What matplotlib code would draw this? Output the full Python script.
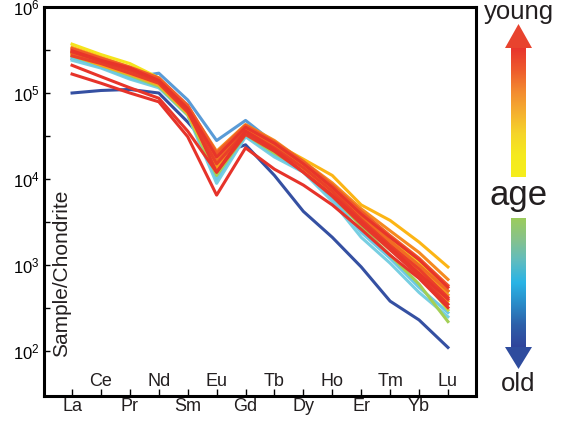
import numpy as np
import matplotlib
matplotlib.use("Agg")
import matplotlib.pyplot as plt
from matplotlib.colors import LinearSegmentedColormap
from matplotlib.ticker import FixedLocator, NullFormatter

plt.rcParams['font.family'] = ['Liberation Sans', 'DejaVu Sans']
plt.rcParams['mathtext.fontset'] = 'custom'
plt.rcParams['mathtext.rm'] = 'Liberation Sans'
plt.rcParams['mathtext.default'] = 'regular'

# 希土類元素（Pmなし）
elements = ["La", "Ce", "Pr", "Nd", "Sm", "Eu", "Gd", "Tb", "Dy", "Ho", "Er", "Tm", "Yb", "Lu"]

# コンドライト規格化値（古い順 → 新しい順）
old_blue    = [1.0e5, 1.07e5, 1.1e5, 1.0e5, 4.6e4, 1.9e4, 2.5e4, 1.1e4, 4.2e3, 2.1e3, 9.5e2, 3.8e2, 2.3e2, 1.1e2]
mid_blue    = [2.5e5, 2.0e5, 1.5e5, 1.7e5, 8.3e4, 2.8e4, 4.8e4, 2.6e4, 1.4e4, 7.0e3, 3.5e3, 1.8e3, 1.0e3, 5.0e2]
cyan_a      = [2.4e5, 1.95e5, 1.45e5, 1.15e5, 5.5e4, 8.9e3, 3.1e4, 1.8e4, 1.2e4, 5.5e3, 2.1e3, 1.05e3, 4.8e2, 2.5e2]
cyan_b      = [2.6e5, 2.0e5, 1.5e5, 1.2e5, 5.7e4, 1.0e4, 3.2e4, 1.9e4, 1.25e4, 6.0e3, 2.4e3, 1.2e3, 5.5e2, 2.8e2]
green_a     = [2.7e5, 2.1e5, 1.6e5, 1.2e5, 5.6e4, 1.1e4, 3.3e4, 2.0e4, 1.3e4, 6.5e3, 2.8e3, 1.3e3, 6.0e2, 2.2e2]
green_b     = [2.9e5, 2.2e5, 1.7e5, 1.25e5, 5.8e4, 1.25e4, 3.4e4, 2.2e4, 1.35e4, 7.0e3, 3.3e3, 1.6e3, 7.8e2, 3.0e2]
yellow      = [3.7e5, 2.8e5, 2.2e5, 1.5e5, 6.8e4, 1.6e4, 4.0e4, 2.5e4, 1.5e4, 8.5e3, 4.0e3, 2.0e3, 1.1e3, 5.0e2]
gold        = [3.4e5, 2.6e5, 2.0e5, 1.4e5, 6.5e4, 1.9e4, 3.9e4, 2.6e4, 1.7e4, 1.1e4, 5.0e3, 3.3e3, 1.85e3, 9.5e2]
orange_a    = [3.2e5, 2.5e5, 1.9e5, 1.45e5, 7.0e4, 2.1e4, 4.3e4, 2.8e4, 1.6e4, 9.0e3, 4.5e3, 2.5e3, 1.4e3, 6.8e2]
orange_b    = [3.0e5, 2.3e5, 1.8e5, 1.3e5, 6.0e4, 1.4e4, 3.7e4, 2.4e4, 1.4e4, 7.5e3, 3.6e3, 1.8e3, 9.5e2, 4.5e2]
orange_c    = [2.8e5, 2.1e5, 1.65e5, 1.25e5, 5.8e4, 1.3e4, 3.5e4, 2.2e4, 1.3e4, 7.0e3, 3.2e3, 1.6e3, 8.5e2, 3.8e2]
redorange_a = [3.3e5, 2.55e5, 2.0e5, 1.5e5, 7.2e4, 2.0e4, 4.2e4, 2.7e4, 1.6e4, 8.5e3, 4.2e3, 2.2e3, 1.2e3, 5.8e2]
redorange_b = [2.9e5, 2.3e5, 1.8e5, 1.35e5, 6.2e4, 1.6e4, 3.8e4, 2.5e4, 1.5e4, 8.0e3, 3.8e3, 1.9e3, 1.0e3, 5.0e2]
red_a       = [3.1e5, 2.4e5, 1.95e5, 1.4e5, 6.6e4, 1.8e4, 4.0e4, 2.6e4, 1.5e4, 8.0e3, 3.9e3, 2.1e3, 1.15e3, 5.5e2]
red_b       = [2.7e5, 2.2e5, 1.7e5, 1.3e5, 6.0e4, 1.5e4, 3.6e4, 2.3e4, 1.35e4, 7.2e3, 3.4e3, 1.7e3, 9.0e2, 4.2e2]
red_c       = [3.0e5, 2.35e5, 1.85e5, 1.38e5, 6.4e4, 1.2e4, 3.3e4, 2.1e4, 1.2e4, 6.3e3, 3.0e3, 1.5e3, 7.5e2, 3.5e2]
red_low1    = [2.1e5, 1.55e5, 1.15e5, 8.7e4, 3.6e4, 1.2e4, 3.6e4, 2.2e4, 1.2e4, 6.5e3, 3.2e3, 1.6e3, 8.0e2, 4.0e2]
red_low2    = [1.66e5, 1.3e5, 1.0e5, 7.9e4, 3.1e4, 6.5e3, 2.3e4, 1.3e4, 8.5e3, 5.0e3, 2.6e3, 1.3e3, 7.0e2, 3.2e2]

# 描画順（下から）と色
series = [
    (old_blue, "#3550a2"),
    (mid_blue, "#5a9bd6"),
    (cyan_a, "#78cfe2"),
    (cyan_b, "#6cc9e4"),
    (green_a, "#a3cf55"),
    (green_b, "#c4d944"),
    (yellow, "#f5e41c"),
    (gold, "#fcb515"),
    (orange_c, "#f9a51f"),
    (orange_b, "#f79a1e"),
    (orange_a, "#f58a1f"),
    (redorange_b, "#f26b23"),
    (redorange_a, "#f05a28"),
    (red_b, "#ea3f29"),
    (red_c, "#e63a2b"),
    (red_a, "#e8352a"),
    (red_low1, "#e8352a"),
    (red_low2, "#e6332a"),
]

W, H = 567, 425
fig = plt.figure(figsize=(W / 100, H / 100), dpi=100)

# 矢印（年代スケール）用のオーバーレイ
ov = fig.add_axes([0, 0, 1, 1])
ov.axis("off")

young_cmap = LinearSegmentedColormap.from_list(
    "young", ["#e8352d", "#ee5a2c", "#f38a30", "#f5b02f", "#f5d52a", "#f5ea1e", "#f6ee1c"])
old_cmap = LinearSegmentedColormap.from_list(
    "old", ["#9ccc5c", "#86c28c", "#5fbcc0", "#29b4e6", "#2a8bc8", "#2d5fa9", "#30449b"])
grad = np.linspace(0, 1, 256).reshape(-1, 1)
ov.imshow(grad, cmap=young_cmap, extent=[511, 526, 177, 48], aspect="auto", interpolation="bilinear")
ov.imshow(grad, cmap=old_cmap, extent=[511, 526, 347, 218], aspect="auto", interpolation="bilinear")
ov.fill([505, 532, 518.5], [48, 48, 24], color="#e8432e", lw=0)
ov.fill([505, 532, 518.5], [347, 347, 369], color="#2f4c9e", lw=0)
ov.set_xlim(0, W)
ov.set_ylim(H, 0)
ov.text(518.5, 12, "young", ha="center", va="center", fontsize=18.5, color="#231f20")
ov.text(518.5, 195, "age", ha="center", va="center", fontsize=25, color="#231f20")
ov.text(518.5, 384, "old", ha="center", va="center", fontsize=18.5, color="#231f20")

# メインのスパイダー図
ax = fig.add_axes([44 / W, 1 - 396 / H, (476 - 44) / W, (396 - 7) / H])
x = np.arange(len(elements))
for vals, col in series:
    ax.plot(x, vals, color=col, lw=2.2, solid_joinstyle="round")

ax.set_yscale("log")
ax.set_ylim(30, 1e6)
ax.set_xlim(-0.97, 13.97)

for s in ax.spines.values():
    s.set_linewidth(2.2)

ax.yaxis.set_major_locator(FixedLocator([1e2, 1e3, 1e4, 1e5, 1e6]))
ax.yaxis.set_minor_locator(FixedLocator([10 ** (k + 0.5) for k in range(2, 6)]))
ax.yaxis.set_minor_formatter(NullFormatter())
ax.tick_params(axis="y", which="both", direction="in", length=4, width=1, labelsize=12, pad=3)

ax.set_xticks(x)
ax.set_xticklabels([])
ax.tick_params(axis="x", direction="in", length=5, width=1)

# 元素名は上下2段に交互配置
for i, el in enumerate(elements):
    if i % 2 == 0:
        ax.text(i, -0.028, el, transform=ax.get_xaxis_transform(), ha="center", va="center", fontsize=13, color="#231f20")
    else:
        ax.text(i, 0.038, el, transform=ax.get_xaxis_transform(), ha="center", va="center", fontsize=13, color="#231f20")

ax.text(18 / (476 - 44), 0.10, "Sample/Chondrite", transform=ax.transAxes, rotation=90,
        ha="center", va="bottom", fontsize=15, color="#231f20")

fig.savefig("out.png", dpi=100)
